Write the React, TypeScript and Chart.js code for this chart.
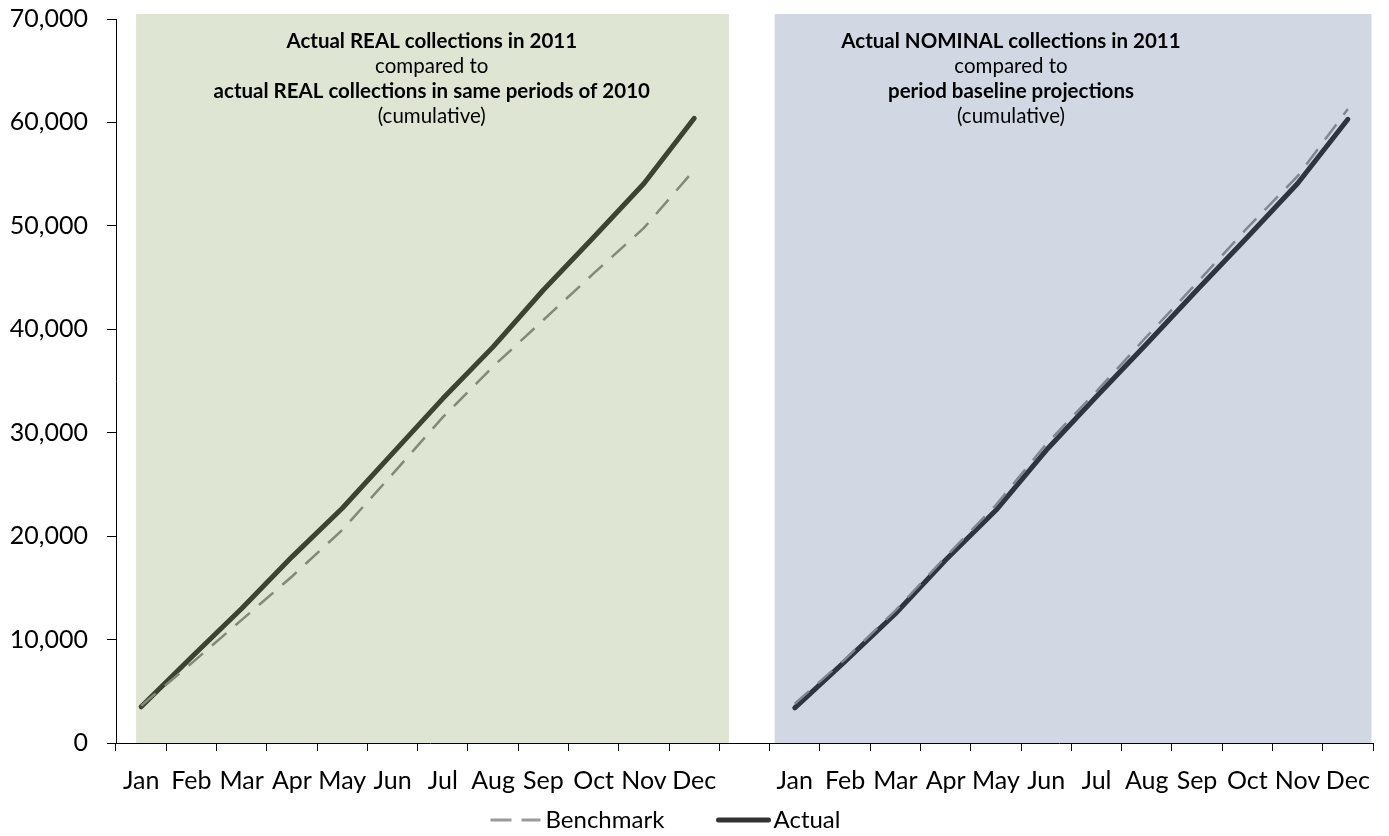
import React, { useEffect, useRef } from 'react';
import { Chart, registerables } from 'chart.js';

Chart.register(...registerables);

const MONTHS = ['Jan', 'Feb', 'Mar', 'Apr', 'May', 'Jun', 'Jul', 'Aug', 'Sep', 'Oct', 'Nov', 'Dec'];
const CATEGORIES = [...MONTHS, '', ...MONTHS];

// Left panel: REAL collections (cumulative)
const REAL_BENCHMARK_2010 = [3600, 7700, 11900, 16100, 20600, 26000, 31500, 36400, 40900, 45400, 49800, 55400];
const REAL_ACTUAL_2011 = [3500, 8300, 13000, 18000, 22700, 28000, 33300, 38300, 43800, 48900, 54100, 60400];

// Right panel: NOMINAL collections (cumulative)
const NOMINAL_BASELINE = [3800, 8100, 12800, 18000, 23000, 28900, 34000, 39300, 44500, 49800, 54800, 61300];
const NOMINAL_ACTUAL_2011 = [3400, 7900, 12500, 17700, 22500, 28300, 33500, 38600, 43800, 48900, 54100, 60300];

const Y_MIN = 0;
const Y_MAX = 70000;
const Y_STEP = 10000;

const LEFT_TITLE = [
  { text: 'Actual REAL collections in 2011', bold: true },
  { text: 'compared to', bold: false },
  { text: 'actual REAL collections in same periods of 2010', bold: true },
  { text: '(cumulative)', bold: false },
];
const RIGHT_TITLE = [
  { text: 'Actual NOMINAL collections in 2011', bold: true },
  { text: 'compared to', bold: false },
  { text: 'period baseline projections', bold: true },
  { text: '(cumulative)', bold: false },
];

const LEGEND_LABELS = ['Benchmark', 'Actual'];

const FONT = 'Lato, "Open Sans", sans-serif';

const COLORS = {
  leftShade: '#dee5d2',
  rightShade: '#d1d8e3',
  leftActual: '#3a4430',
  leftBench: '#7f8b72',
  rightActual: '#2c3540',
  rightBench: '#7e8792',
  legendBench: '#9a9a9a',
  legendActual: '#333333',
};

const panelsPlugin = {
  id: 'panels',
  beforeDraw(chart: any) {
    const { ctx, chartArea, scales } = chart;
    const x = scales.x;
    const panels = [
      { from: -0.1, to: 11.69, color: COLORS.leftShade, textAt: 5.78, lines: LEFT_TITLE },
      { from: 12.6, to: 24.47, color: COLORS.rightShade, textAt: 17.3, lines: RIGHT_TITLE },
    ];
    ctx.save();
    const top = chartArea.top - 5;
    panels.forEach((p) => {
      const x0 = x.getPixelForValue(p.from);
      const x1 = x.getPixelForValue(p.to);
      ctx.fillStyle = p.color;
      ctx.fillRect(x0, top, x1 - x0, chartArea.bottom - top);
    });
    ctx.fillStyle = '#000';
    ctx.textAlign = 'center';
    ctx.textBaseline = 'alphabetic';
    panels.forEach((p) => {
      const cx = x.getPixelForValue(p.textAt);
      p.lines.forEach((l, i) => {
        ctx.font = `${l.bold ? 'bold ' : ''}20.5px ${FONT}`;
        ctx.fillText(l.text, cx, chartArea.top + 29 + i * 25);
      });
    });
    ctx.restore();
  },
};

const legendPlugin = {
  id: 'customLegend',
  afterDraw(chart: any) {
    const { ctx } = chart;
    const c = chart.width / 2;
    const y = 820;
    ctx.save();
    ctx.font = `24px ${FONT}`;
    ctx.textBaseline = 'middle';
    ctx.textAlign = 'left';
    // Benchmark
    ctx.strokeStyle = COLORS.legendBench;
    ctx.lineWidth = 3;
    ctx.setLineDash([21, 10]);
    ctx.beginPath();
    ctx.moveTo(c - 204, y);
    ctx.lineTo(c - 154, y);
    ctx.stroke();
    ctx.setLineDash([]);
    ctx.fillStyle = '#000';
    ctx.fillText(LEGEND_LABELS[0], c - 149, y);
    // Actual
    ctx.strokeStyle = COLORS.legendActual;
    ctx.lineWidth = 5;
    ctx.lineCap = 'round';
    ctx.beginPath();
    ctx.moveTo(c + 24, y);
    ctx.lineTo(c + 74, y);
    ctx.stroke();
    ctx.fillText(LEGEND_LABELS[1], c + 79, y);
    ctx.restore();
  },
};

export default function App() {
  const ref = useRef<HTMLCanvasElement | null>(null);
  useEffect(() => {
    if (!ref.current) return;
    const benchmark = [...REAL_BENCHMARK_2010, null, ...NOMINAL_BASELINE];
    const actual = [...REAL_ACTUAL_2011, null, ...NOMINAL_ACTUAL_2011];
    const split = MONTHS.length;
    const chart = new Chart(ref.current, {
      type: 'line',
      data: {
        labels: CATEGORIES,
        datasets: [
          {
            label: LEGEND_LABELS[0],
            data: benchmark,
            borderColor: COLORS.leftBench,
            borderWidth: 2.5,
            borderDash: [19, 12],
            pointRadius: 0,
            tension: 0,
            spanGaps: false,
            segment: {
              borderColor: (ctx: any) => (ctx.p0DataIndex < split ? COLORS.leftBench : COLORS.rightBench),
            },
          },
          {
            label: LEGEND_LABELS[1],
            data: actual,
            borderColor: COLORS.leftActual,
            borderWidth: 5,
            borderCapStyle: 'round',
            borderJoinStyle: 'round',
            pointRadius: 0,
            tension: 0,
            spanGaps: false,
            segment: {
              borderColor: (ctx: any) => (ctx.p0DataIndex < split ? COLORS.leftActual : COLORS.rightActual),
            },
          },
        ],
      },
      options: {
        animation: false,
        responsive: true,
        maintainAspectRatio: false,
        layout: { padding: { top: 19, right: 16, left: 0, bottom: 0 } },
        plugins: {
          legend: { display: false },
          tooltip: { enabled: false },
        },
        scales: {
          x: {
            type: 'category',
            offset: true,
            afterFit: (s: any) => {
              s.height = 93;
            },
            grid: {
              offset: true,
              drawOnChartArea: false,
              drawTicks: true,
              tickLength: 8,
              tickColor: '#000',
              tickWidth: 1,
            },
            border: { display: true, color: '#000', width: 1 },
            ticks: {
              autoSkip: false,
              maxRotation: 0,
              minRotation: 0,
              padding: 15,
              color: '#000',
              font: { family: FONT, size: 25 },
            },
          },
          y: {
            min: Y_MIN,
            max: Y_MAX,
            afterFit: (s: any) => {
              s.width = 116;
              s.paddingTop = 0;
              s.paddingBottom = 0;
            },
            grid: {
              drawOnChartArea: false,
              drawTicks: true,
              tickLength: 9,
              tickColor: '#000',
            },
            border: { display: true, color: '#000', width: 1 },
            ticks: {
              stepSize: Y_STEP,
              padding: 19,
              color: '#000',
              font: { family: FONT, size: 25 },
              callback: (v: any) => Number(v).toLocaleString('en-US'),
            },
          },
        },
      },
      plugins: [panelsPlugin, legendPlugin],
    });
    return () => chart.destroy();
  }, []);

  return (
    <div style={{ position: 'absolute', left: 0, top: 0, width: 1389, height: 836 }}>
      <canvas ref={ref} />
    </div>
  );
}
